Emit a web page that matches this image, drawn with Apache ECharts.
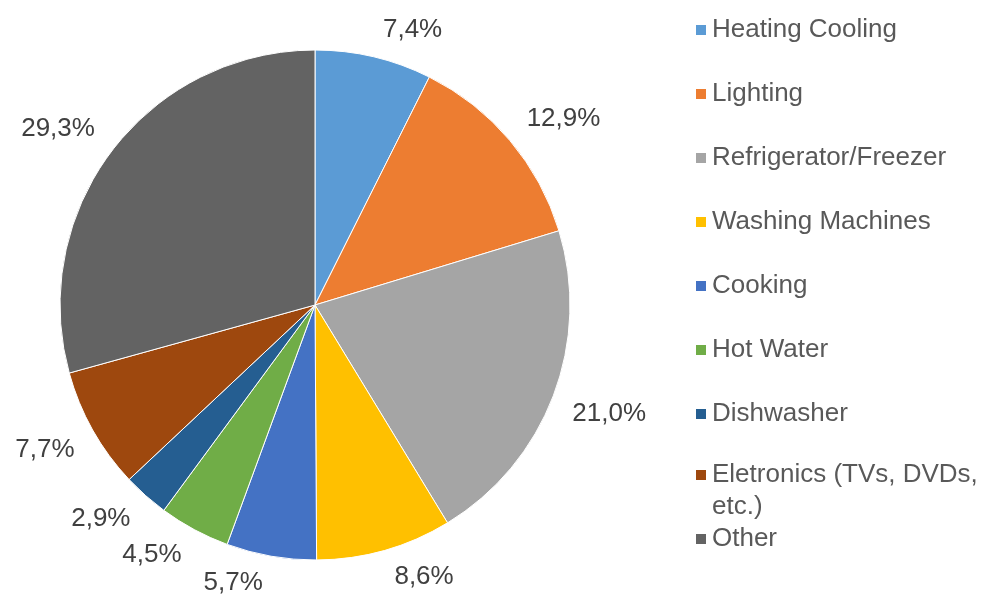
<!DOCTYPE html>
<html>
<head>
<meta charset="utf-8">
<script src="https://cdn.jsdelivr.net/npm/echarts@6/dist/echarts.min.js"></script>
<style>
  html, body { margin: 0; padding: 0; background: #fff; }
  #chart { width: 984px; height: 598px; }
</style>
</head>
<body>
<div id="chart"></div>
<script>
// energy use shares, in percent
var categories = ['Heating Cooling', 'Lighting', 'Refrigerator/Freezer', 'Washing Machines',
	'Cooking', 'Hot Water', 'Dishwasher', 'Eletronics (TVs, DVDs, etc.)', 'Other'];
var values = [7.4, 12.9, 21.0, 8.6, 5.7, 4.5, 2.9, 7.7, 29.3];
var colors = ['#5B9BD5', '#ED7D31', '#A5A5A5', '#FFC000', '#4472C4', '#70AD47', '#255E91', '#9E480E', '#636363'];

var font = '"Liberation Sans", Arial, sans-serif';
var pieCenter = [315, 305];
var chart = echarts.init(document.getElementById('chart'), null, { renderer: 'canvas' });

var pieData = categories.map(function (name, i) {
	return { name: name, value: values[i], itemStyle: { color: colors[i] } };
});

var legendText = {
	fontFamily: font,
	fontSize: 26,
	color: '#595959',
	lineHeight: 32
};

var option = {
	backgroundColor: '#fff',
	animation: false,
	legend: [{
		orient: 'vertical',
		left: 694,
		top: 14,
		padding: 0,
		itemGap: 32,
		itemWidth: 12,
		itemHeight: 12,
		icon: 'rect',
		selectedMode: false,
		textStyle: legendText,
		data: categories.slice(0, 7)
	}, {
		orient: 'vertical',
		left: 694,
		top: 427,
		padding: 0,
		itemGap: 0,
		itemWidth: 12,
		itemHeight: 12,
		icon: 'rect',
		selectedMode: false,
		textStyle: legendText,
		// blank first line keeps the icon level with the first text line
		formatter: function (name) {
			if (name === categories[7]) {
				return '\n' + name.replace(', etc.)', ',\netc.)');
			}
			return name;
		},
		data: categories.slice(7)
	}],
	series: [{
		type: 'pie',
		center: pieCenter,
		radius: 255,
		startAngle: 90,
		clockwise: true,
		avoidLabelOverlap: false,
		data: pieData,
		itemStyle: { borderColor: '#fff', borderWidth: 1 },
		label: {
			show: true,
			position: 'outside',
			fontFamily: font,
			fontSize: 26,
			lineHeight: 26,
			color: '#404040',
			distanceToLabelLine: 6,
			formatter: function (p) {
				return p.value.toFixed(1).replace('.', ',') + '%';
			}
		},
		labelLine: { show: false, length: 14, length2: 0 },
		// labels hang away from the pie like in Excel
		labelLayout: function (params) {
			var r = params.labelRect;
			return { verticalAlign: (r.y + r.height / 2 < pieCenter[1]) ? 'bottom' : 'top' };
		},
		emphasis: { disabled: true }
	}]
};
chart.setOption(option);
</script>
</body>
</html>
